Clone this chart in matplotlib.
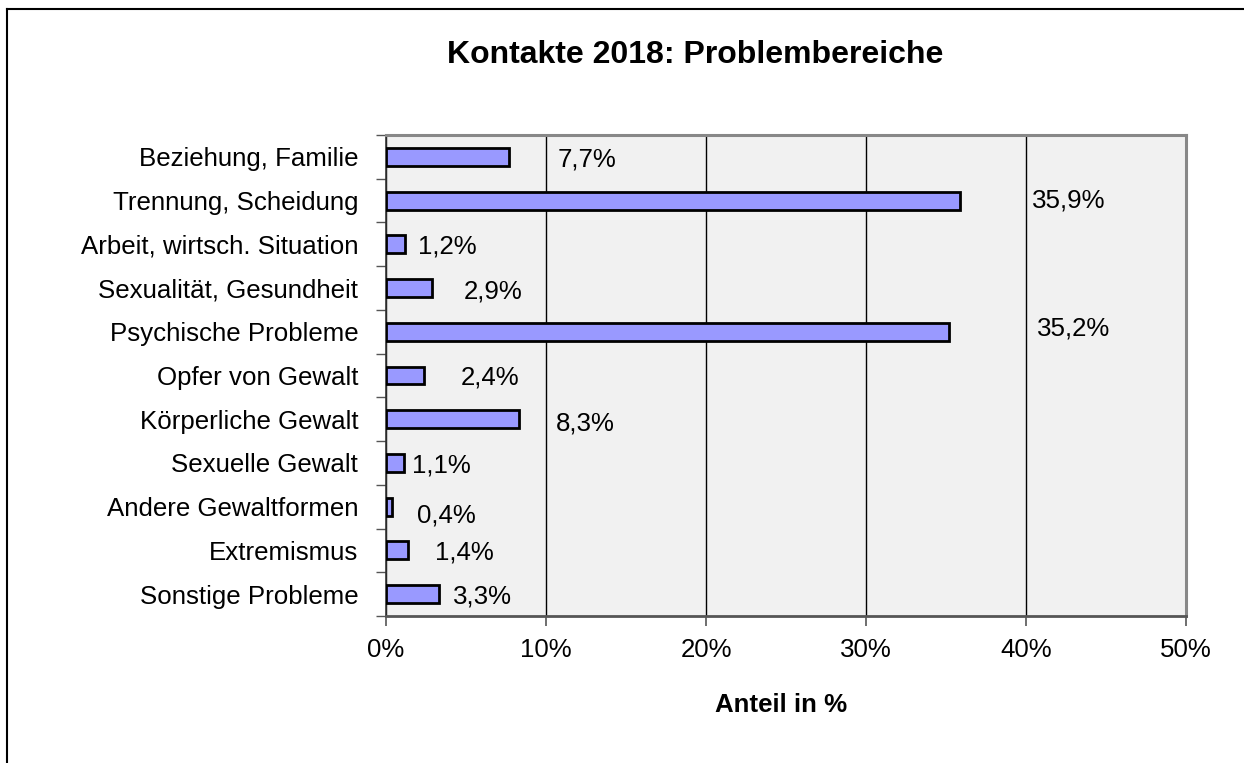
import matplotlib
matplotlib.use("Agg")
import matplotlib.pyplot as plt
from matplotlib.lines import Line2D

plt.rcParams['font.family'] = ['Liberation Sans', 'DejaVu Sans']

categories = [
    "Beziehung, Familie",
    "Trennung, Scheidung",
    "Arbeit, wirtsch. Situation",
    "Sexualität, Gesundheit",
    "Psychische Probleme",
    "Opfer von Gewalt",
    "Körperliche Gewalt",
    "Sexuelle Gewalt",
    "Andere Gewaltformen",
    "Extremismus",
    "Sonstige Probleme",
]
values = [7.7, 35.9, 1.2, 2.9, 35.2, 2.4, 8.3, 1.1, 0.4, 1.4, 3.3]
value_labels = ["7,7%", "35,9%", "1,2%", "2,9%", "35,2%", "2,4%",
                "8,3%", "1,1%", "0,4%", "1,4%", "3,3%"]
xticks = [0, 10, 20, 30, 40, 50]
xtick_labels = ["0%", "10%", "20%", "30%", "40%", "50%"]
title = "Kontakte 2018: Problembereiche"
xlabel = "Anteil in %"

# label offsets (pixels) from bar end / bar centre, as placed in the original
label_dx = [48, 72, 13, 31, 88, 36, 37, 8, 25, 27, 14]
label_dy = [-3, 0, -2, -3, 3, -2, -4, -3, -9, -2, -2]

FS = 18.6

W, H = 1244, 763
fig = plt.figure(figsize=(W / 100, H / 100), dpi=100)
fig.patch.set_facecolor("white")

# outer frame (top and left visible)
fig.add_artist(Line2D([7 / W, 7 / W], [0, 1 - 9 / H], transform=fig.transFigure,
                      color="black", lw=1.5))
fig.add_artist(Line2D([7 / W, 1], [1 - 9 / H, 1 - 9 / H], transform=fig.transFigure,
                      color="black", lw=1.5))

left, right, top, bottom = 386, 1186, 135, 616
ax = fig.add_axes([left / W, 1 - bottom / H, (right - left) / W, (bottom - top) / H])
ax.set_facecolor("#f1f1f1")

n = len(categories)
ypos = list(range(n))
ax.barh(ypos, values, height=0.41, color="#9999ff", edgecolor="black",
        linewidth=2.0, zorder=3)

ax.set_xlim(0, 50)
ax.set_ylim(n - 0.5, -0.5)
ax.set_xticks(xticks)
ax.set_xticklabels(xtick_labels, fontsize=FS)
ax.tick_params(axis="x", length=7, width=1.2, color="#555555", pad=9)
ax.xaxis.grid(True, color="black", linewidth=1.0, zorder=1)
ax.set_axisbelow(True)

# y: ticks at category boundaries, labels at centres
ax.set_yticks([i - 0.5 for i in range(n + 1)])
ax.set_yticklabels([])
ax.set_yticks(ypos, minor=True)
ax.set_yticklabels(categories, minor=True, fontsize=FS)
ax.tick_params(axis="y", which="major", length=7, width=1.0, color="#555555")
ax.tick_params(axis="y", which="minor", length=0, pad=20)

for side in ["top", "right"]:
    ax.spines[side].set_color("#888888")
    ax.spines[side].set_linewidth(2.2)
ax.spines["left"].set_color("#333333")
ax.spines["left"].set_linewidth(1.2)
ax.spines["bottom"].set_color("#555555")
ax.spines["bottom"].set_linewidth(2.0)

for i, (v, lab) in enumerate(zip(values, value_labels)):
    ax.annotate(lab, xy=(v, i), xytext=(label_dx[i], label_dy[i]),
                textcoords="offset pixels", ha="left", va="center",
                fontsize=FS, color="black", zorder=4)

fig.text(695 / W, 1 - 55 / H, title, ha="center", va="center",
         fontsize=23, fontweight="bold")
fig.text(781 / W, 1 - 705 / H, xlabel, ha="center", va="center",
         fontsize=FS, fontweight="bold")

fig.savefig("out.png", dpi=100)
